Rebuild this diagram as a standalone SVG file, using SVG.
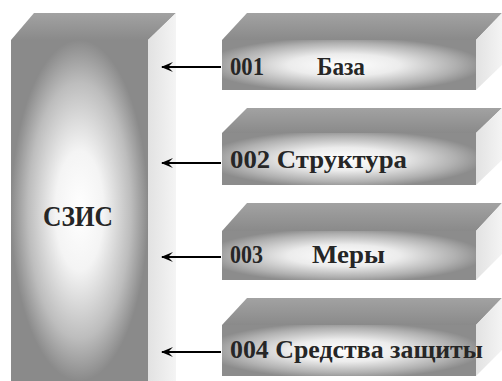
<svg xmlns="http://www.w3.org/2000/svg" width="502" height="381" viewBox="0 0 502 381">
<defs>
<radialGradient id="colG" cx="0.5" cy="0.5" r="0.5">
<stop offset="0" stop-color="#ffffff"/>
<stop offset="0.35" stop-color="#f4f4f4"/>
<stop offset="0.75" stop-color="#bdbdbd"/>
<stop offset="1" stop-color="#8a8a8a"/>
</radialGradient>
<radialGradient id="boxG" cx="0.48" cy="0.5" r="0.55">
<stop offset="0" stop-color="#ffffff"/>
<stop offset="0.4" stop-color="#ececec"/>
<stop offset="0.8" stop-color="#b0b0b0"/>
<stop offset="1" stop-color="#8c8c8c"/>
</radialGradient>
<linearGradient id="topG" x1="0" y1="0" x2="0" y2="1">
<stop offset="0" stop-color="#a2a2a2"/>
<stop offset="1" stop-color="#8a8a8a"/>
</linearGradient>
<linearGradient id="sideG" x1="0" y1="0" x2="1" y2="0">
<stop offset="0" stop-color="#e2e2e2"/>
<stop offset="1" stop-color="#f4f4f4"/>
</linearGradient>
<marker id="ah" viewBox="0 0 12 10" refX="11" refY="5" markerWidth="12" markerHeight="10" markerUnits="userSpaceOnUse" orient="auto">
<path d="M0,0 L12,5 L0,10 L5,5 Z" fill="#000"/>
</marker>
</defs>
<style>
.top{fill:url(#topG);}
.side{fill:url(#sideG);}
.front{fill:url(#boxG);}
.lbl{font-family:"Liberation Serif","Times New Roman",serif;font-size:25px;font-weight:bold;fill:#262626;}
.arr{stroke:#000;stroke-width:2;fill:none;marker-end:url(#ah);}
</style>
<rect width="502" height="381" fill="#ffffff"/>
<g id="szis">
<polygon class="top" points="11,40 34,13 176,13 148,40"/>
<polygon class="side" points="148,40 176,13 176,381 148,381"/>
<rect x="11" y="40" width="137" height="341" fill="url(#colG)"/>
<text class="lbl" x="43" y="226" textLength="70" lengthAdjust="spacingAndGlyphs" style="font-size:30px">СЗИС</text>
</g>
<g id="box1">
<polygon class="top" points="222,40 247,13 502,13 476,40"/>
<polygon class="side" points="476,40 502,13 502,65 476,90"/>
<rect class="front" x="222" y="40" width="254" height="50"/>
<text class="lbl" x="230" y="75" textLength="34" lengthAdjust="spacingAndGlyphs">001</text>
<text class="lbl" x="317" y="75" textLength="48" lengthAdjust="spacingAndGlyphs">База</text>
</g>
<g id="box2">
<polygon class="top" points="222,133 247,108 502,108 476,133"/>
<polygon class="side" points="476,133 502,108 502,160 476,185"/>
<rect class="front" x="222" y="133" width="254" height="52"/>
<text class="lbl" x="230" y="168" textLength="177" lengthAdjust="spacingAndGlyphs">002  Структура</text>
</g>
<g id="box3">
<polygon class="top" points="222,231 247,203 502,203 476,231"/>
<polygon class="side" points="476,231 502,203 502,254 476,280"/>
<rect class="front" x="222" y="231" width="254" height="49"/>
<text class="lbl" x="230" y="263" textLength="33" lengthAdjust="spacingAndGlyphs">003</text>
<text class="lbl" x="312" y="263" textLength="73" lengthAdjust="spacingAndGlyphs">Меры</text>
</g>
<g id="box4">
<polygon class="top" points="222,325 247,298 502,298 476,325"/>
<polygon class="side" points="476,325 502,298 502,350 476,376"/>
<rect class="front" x="222" y="325" width="254" height="51"/>
<text class="lbl" x="230" y="358" textLength="253" lengthAdjust="spacingAndGlyphs">004  Средства защиты</text>
</g>
<g id="connectors">
<line class="arr" x1="221" y1="67" x2="162" y2="67"/>
<line class="arr" x1="221" y1="163" x2="162" y2="163"/>
<line class="arr" x1="221" y1="257" x2="162" y2="257"/>
<line class="arr" x1="221" y1="352" x2="162" y2="352"/>
</g>
</svg>
